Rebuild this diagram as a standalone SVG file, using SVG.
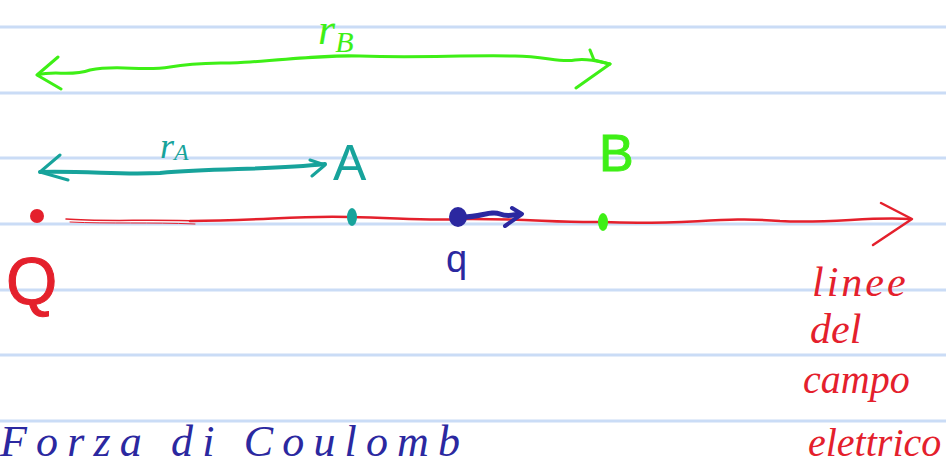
<svg xmlns="http://www.w3.org/2000/svg" width="946" height="466" viewBox="0 0 946 466">
<style>
.rule{stroke:#cadcf6;stroke-width:3}
.hand{fill:none;stroke-linecap:round;stroke-linejoin:round}
.red{stroke:#e4202c}
.teal{stroke:#17a39b}
.green{stroke:#3eef16}
.navy{stroke:#2b28a0}
.t{font-family:"Liberation Sans","DejaVu Sans",sans-serif}
.w{font-family:"Liberation Serif","DejaVu Serif",serif;font-style:italic}
</style>
<rect width="946" height="466" fill="#ffffff"/>
<g id="rules">
<line class="rule" x1="0" y1="27" x2="946" y2="27"/>
<line class="rule" x1="0" y1="93" x2="946" y2="93"/>
<line class="rule" x1="0" y1="158" x2="946" y2="158"/>
<line class="rule" x1="0" y1="224" x2="946" y2="224"/>
<line class="rule" x1="0" y1="290" x2="946" y2="290"/>
<line class="rule" x1="0" y1="355" x2="946" y2="355"/>
<line class="rule" x1="0" y1="421" x2="946" y2="421"/>
</g>
<g id="connectors">
<path class="hand red" stroke-width="1.5" d="M66 219 C100 222 150 219 200 221"/>
<path class="hand red" stroke-width="1" d="M70 222 C110 224 150 222 195 224"/>
<path class="hand red" stroke-width="2.5" d="M190 221 C260 221 300 215 350 217 C400 218 430 221 460 219 C520 218 560 223 603 222 C680 226 720 216 780 221 C830 224 870 216 910 219"/>
<path class="hand red" stroke-width="2.5" d="M881 203 L912 219 L873 245"/>
<path class="hand teal" stroke-width="4" d="M40 172 C90 171 120 175 160 173 C220 168 270 170 325 164"/>
<path class="hand teal" stroke-width="3" d="M60 155 L40 172 L68 180 M310 160 L325 165 L312 176"/>
<path class="hand green" stroke-width="3" d="M38 75 C55 70 70 77 90 70 C120 64 140 72 170 67 C200 62 220 64 250 62 C300 58 330 55 360 56 C420 58 460 55 515 56 C545 56 560 63 575 60 C590 58 600 62 610 64"/>
<path class="hand green" stroke-width="3" d="M58 57 L37 75 L61 89 M590 50 L594 60 L610 64 L576 88"/>
<path class="hand navy" stroke-width="5" d="M460 217 C480 218 490 210 500 214 C508 217 512 215 520 214"/>
<path class="hand navy" stroke-width="4" d="M512 208 L522 214 L505 226"/>
</g>
<g id="node-Q">
<circle cx="37" cy="216" r="7" fill="#e4202c"/>
<text class="t" x="6" y="304" font-size="66" fill="#e4202c" stroke="#e4202c" stroke-width="1">Q</text>
</g>
<g id="node-A">
<ellipse cx="352" cy="217" rx="5" ry="9" fill="#17a39b"/>
<text class="t" x="333" y="180" font-size="50" fill="#17a39b">A</text>
</g>
<g id="node-q">
<ellipse cx="458" cy="217" rx="9" ry="10" fill="#2b28a0"/>
<text class="t" x="446" y="272" font-size="38" fill="#2b28a0">q</text>
</g>
<g id="node-B">
<ellipse cx="603" cy="222" rx="5" ry="9" fill="#3eef16"/>
<text class="t" x="599" y="171" font-size="52" fill="#3eef16" stroke="#3eef16" stroke-width="1">B</text>
</g>
<g id="label-rA">
<text class="w" x="160" y="158" font-size="36" fill="#17a39b">r<tspan font-size="24" dy="2">A</tspan></text>
</g>
<g id="label-rB">
<text class="w" x="318" y="44" font-size="44" fill="#3eef16">r<tspan font-size="30" dy="8">B</tspan></text>
</g>
<g id="label-field">
<text class="w" x="812" y="296" font-size="42" fill="#e4202c" letter-spacing="3">linee</text>
<text class="w" x="810" y="343" font-size="42" fill="#e4202c">del</text>
<text class="w" x="803" y="393" font-size="40" fill="#e4202c">campo</text>
<text class="w" x="808" y="456" font-size="40" fill="#e4202c">elettrico</text>
</g>
<g id="bottom-text">
<text class="w" x="0" y="456" font-size="44" fill="#2b28a0" textLength="460">Forza di Coulomb</text>
</g>
</svg>
